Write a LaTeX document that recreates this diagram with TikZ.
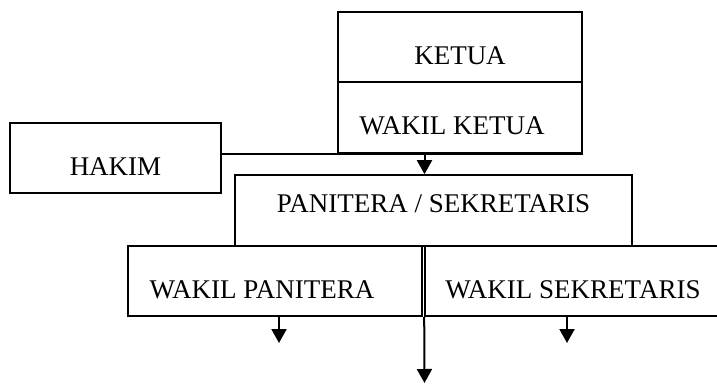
\documentclass[tikz,border=0pt]{standalone}
\usepackage{fontspec}
\setmainfont{Liberation Serif}
\usetikzlibrary{arrows.meta}

\tikzset{
  box/.style={draw, line width=1.6pt, rectangle, inner sep=0pt, font=\fontsize{27}{31}\selectfont},
  low/.style={text height=34pt, text depth=0pt},
  high/.style={text height=18pt, text depth=14pt},
  arr/.style={line width=2pt, -{Triangle[length=14pt,width=15pt]}}
}

\begin{document}
\begin{tikzpicture}[x=1pt, y=-1pt]

    \useasboundingbox (0,0) rectangle (717,383);

    \node[box, low, minimum width=244pt, minimum height=70pt] (ketua) at (460,47) {KETUA};
    \node[box, low, minimum width=244pt, minimum height=71pt] (wketua) at (460,117.5) {WAKIL KETUA\hspace*{16pt}};
    \node[box, low, minimum width=211pt, minimum height=70pt] (hakim) at (115.5,158) {HAKIM};
    \node[box, high, minimum width=397pt, minimum height=71pt] (panitera) at (433.5,210.5) {PANITERA / SEKRETARIS};
    \node[box, low, minimum width=294pt, minimum height=70pt] (wpanitera) at (275,281) {WAKIL PANITERA\hspace*{26pt}};
    \node[box, low, minimum width=312pt, minimum height=70pt] (wsekretaris) at (581,281) {WAKIL SEKRETARIS\hspace*{16pt}};

    \coordinate (endp) at (279,343);
    \coordinate (ends) at (567,343);
    \coordinate (endm) at (424.5,383);

    \draw [line width=2pt] (hakim.east |- wketua.south) -- (wketua.south east);
    \draw [arr] (wketua.south -| endm) -- (panitera.north -| endm);
    \draw [arr] (wpanitera.south -| endp) -- (endp);
    \draw [arr] (wsekretaris.south -| ends) -- (ends);
    \draw [arr] (wsekretaris.south west) -- (endm);

\end{tikzpicture}
\end{document}
